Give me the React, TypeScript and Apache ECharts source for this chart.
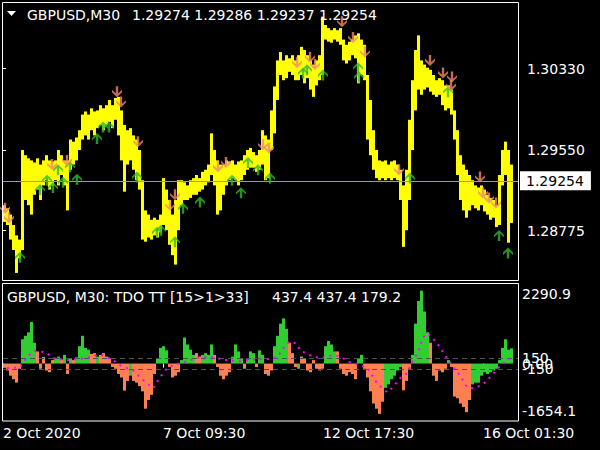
import React, { useEffect, useRef } from "react";
import * as echarts from "echarts";

// ---- price pane (GBPUSD M30), one sample per 3 bars ----
const priceHigh = [
  1.2902, 1.2899, 1.2893, 1.2883, 1.2873, 1.2869, 1.2955, 1.295, 1.2947, 1.2945,
  1.2943, 1.2947, 1.2941, 1.2945, 1.295, 1.2945, 1.2944, 1.2945, 1.2955, 1.295,
  1.2945, 1.2945, 1.2965, 1.2963, 1.2967, 1.2974, 1.2989, 1.2992, 1.2989, 1.2995,
  1.2992, 1.2993, 1.2998, 1.2995, 1.2998, 1.3003, 1.2998, 1.3005, 1.3006, 1.2993,
  1.2979, 1.2974, 1.2976, 1.2969, 1.2965, 1.2955, 1.2926, 1.2897, 1.2893, 1.2888,
  1.289, 1.2888, 1.2893, 1.2928, 1.2917, 1.2907, 1.2893, 1.2907, 1.2926, 1.2926,
  1.2924, 1.2921, 1.2926, 1.2928, 1.2931, 1.2928, 1.2934, 1.2936, 1.2941, 1.2971,
  1.2955, 1.2945, 1.2941, 1.2941, 1.2945, 1.2944, 1.2945, 1.2941, 1.2944, 1.2945,
  1.295, 1.2955, 1.2957, 1.2953, 1.295, 1.2955, 1.2974, 1.2969, 1.2965, 1.2993,
  1.3016, 1.3041, 1.3049, 1.3041, 1.3046, 1.3043, 1.3046, 1.3041, 1.3046, 1.3054,
  1.3051, 1.3046, 1.3041, 1.3037, 1.3041, 1.3046, 1.3083, 1.3075, 1.3072, 1.307,
  1.3072, 1.307, 1.3072, 1.3061, 1.3056, 1.3059, 1.3061, 1.3065, 1.3067, 1.3061,
  1.3056, 1.3027, 1.3003, 1.2974, 1.2955, 1.2945, 1.2944, 1.2945, 1.2941, 1.2944,
  1.2945, 1.2941, 1.2936, 1.2921, 1.2936, 1.2984, 1.3022, 1.3051, 1.3065, 1.3041,
  1.3037, 1.3034, 1.3032, 1.3027, 1.3022, 1.3024, 1.3022, 1.3017, 1.3017, 1.3013,
  1.2993, 1.2974, 1.295, 1.2941, 1.2936, 1.2931, 1.2926, 1.2921, 1.2919, 1.2921,
  1.2917, 1.2912, 1.2909, 1.2907, 1.2902, 1.2931, 1.2955, 1.2963, 1.2955, 1.2941,
];
const priceLow = [
  1.2886, 1.2883, 1.2869, 1.2859, 1.2837, 1.2851, 1.2859, 1.2907, 1.2902, 1.2893,
  1.2912, 1.2917, 1.2907, 1.2921, 1.2926, 1.2917, 1.2921, 1.2926, 1.2921, 1.2931,
  1.2921, 1.2897, 1.2936, 1.2941, 1.2945, 1.2955, 1.2965, 1.2969, 1.2965, 1.2974,
  1.2969, 1.2976, 1.2979, 1.2974, 1.2979, 1.2982, 1.2976, 1.2984, 1.2969, 1.2945,
  1.2915, 1.2941, 1.2945, 1.2936, 1.2926, 1.2917, 1.2869, 1.2867, 1.2871, 1.2869,
  1.2873, 1.2871, 1.2876, 1.2883, 1.2878, 1.2864, 1.2854, 1.2845, 1.2878, 1.2902,
  1.2907, 1.2907, 1.2909, 1.2912, 1.2912, 1.2915, 1.2917, 1.2921, 1.2924, 1.2931,
  1.2921, 1.2893, 1.2897, 1.2912, 1.2921, 1.2926, 1.2928, 1.2926, 1.2921, 1.2926,
  1.2931, 1.2936, 1.2938, 1.2938, 1.2934, 1.2936, 1.2941, 1.2926, 1.2928, 1.2955,
  1.2971, 1.3003, 1.3027, 1.3022, 1.3024, 1.303, 1.3027, 1.3022, 1.3022, 1.3027,
  1.3019, 1.3024, 1.3013, 1.3006, 1.3017, 1.3022, 1.3027, 1.3061, 1.3059, 1.3058,
  1.3061, 1.3059, 1.3056, 1.3041, 1.3038, 1.3041, 1.3046, 1.3043, 1.3019, 1.3027,
  1.3022, 1.2965, 1.295, 1.2936, 1.2928, 1.2926, 1.2928, 1.2926, 1.2928, 1.2926,
  1.2928, 1.2926, 1.2907, 1.2862, 1.2878, 1.2907, 1.2955, 1.2993, 1.3013, 1.3008,
  1.3013, 1.3015, 1.3011, 1.3008, 1.3006, 1.3008, 1.2998, 1.2993, 1.2995, 1.2989,
  1.2965, 1.2931, 1.2907, 1.2897, 1.289, 1.2897, 1.2902, 1.2899, 1.2897, 1.2902,
  1.2896, 1.2893, 1.2888, 1.289, 1.2881, 1.2883, 1.2921, 1.2931, 1.2866, 1.2885,
];
const barsPerSample = 3;

// arrow signals (bar index, price)
const upBar = [17, 37, 44, 50, 55, 60, 67, 74, 94, 100, 106, 134, 154, 158, 172, 180, 197, 229, 238, 245, 255, 267, 300, 304, 320, 355, 356, 407, 445, 496, 505];
const upPrice = [1.2852, 1.2917, 1.2926, 1.2919, 1.2936, 1.2924, 1.2939, 1.2927, 1.2966, 1.2977, 1.2977, 1.2929, 1.2876, 1.2878, 1.2867, 1.2899, 1.2905, 1.2926, 1.2914, 1.2943, 1.2936, 1.2928, 1.3029, 1.3032, 1.3027, 1.3034, 1.3025, 1.2928, 1.3011, 1.2873, 1.2856];
const downBar = [2, 6, 49, 64, 114, 118, 135, 167, 172, 215, 223, 260, 266, 294, 307, 312, 339, 350, 362, 396, 427, 440, 449, 448, 477, 480, 486, 493];
const downPrice = [1.2899, 1.289, 1.2941, 1.2945, 1.3011, 1.3001, 1.2963, 1.2902, 1.2912, 1.2939, 1.2943, 1.296, 1.2957, 1.3039, 1.3044, 1.3037, 1.3078, 1.3063, 1.3049, 1.2936, 1.3041, 1.3029, 1.3025, 1.3017, 1.2929, 1.2914, 1.2909, 1.2904];

const currentPrice = 1.29254;
const priceMin = 1.28302;
const priceMax = 1.30961;
const priceTicks = [1.28775, 1.2955, 1.3033];

// ---- indicator pane (TDO TT) ----
const histValue = [
  -120, -200, -350, -450, -550, -150, 700, 800, 900, 1200,
  600, 350, -150, 190, -200, -250, 100, 150, 200, 120,
  250, -300, 150, 100, 180, 500, 800, 450, 400, 280,
  300, 200, 250, 300, 200, 150, -100, -150, -300, -400,
  -780, -500, -350, -500, -550, -650, -800, -1300, -1050, -900,
  -300, 150, 450, 500, 380, -100, -400, -350, -250, 100,
  750, 550, 400, 250, 300, 200, 250, 300, 250, 550,
  250, -100, -350, -450, -350, -250, 200, 550, 350, 150,
  -150, 120, 350, 300, -100, 380, 250, -300, -350, -200,
  500, 800, 1150, 1300, 1000, 600, 300, -100, -150, 200,
  150, -200, -250, 100, -150, -200, -150, 500, 650, 550,
  350, 350, -150, -300, -350, -250, -300, -450, 150, 250,
  -150, -400, -800, -1150, -1300, -1450, -1100, -700, -600, -450,
  -350, -200, -100, -770, -500, -150, 250, 1150, 1800, 2100,
  1500, 900, 600, -350, -500, -200, -250, -150, 100, -100,
  -950, -1000, -1150, -1250, -1400, -1050, -600, -550, -550, -350,
  -250, -300, -250, -200, -150, 100, 450, 700, 400, 437.4,
];
// g = rising (green), c = falling (coral)
const histColorKey =
  "ccccccgggg" + "gccccccggc" + "gcgcgggggc" + "cgcccccccc" + "ccgccccccc" +
  "cggggccccg" + "ggggccgggg" + "ccccccgggg" + "cgggcggccc" + "gggggcccgc" +
  "cccccccggg" + "gcccccccgg" + "cccccccggg" + "gggcccgggg" + "ggccccccgc" +
  "ccccccgggg" + "gggggggggg";

const signalBar = [4, 17, 24, 30, 37, 44, 50, 57, 64, 74, 87, 97, 104, 110, 117, 124, 130, 137, 144, 150, 157, 164, 170, 177, 187, 197, 210, 224, 237, 250, 264, 274, 279, 284, 289, 295, 297, 307, 317, 330, 337, 347, 357, 364, 374, 384, 390, 397, 404, 410, 415, 420, 425, 434, 444, 450, 457, 464, 470, 479, 487, 495, 504, 509];
const signalValue = [-135, -107, 181, 354, 354, 297, 153, 124, 95, 124, 181, 268, 181, 95, -49, -135, -193, -395, -567, -711, -395, -135, -49, 9, 95, 181, 181, 95, 66, 124, 124, 181, 383, 585, 642, 527, 383, 239, 153, 239, 210, 37, -49, -107, -567, -826, -682, -423, -279, 95, 325, 757, 873, 585, 153, -107, -337, -682, -711, -625, -395, -135, 95, 179.2];

const indMin = -1654.1;
const indMax = 2290.9;
const indLevels = [150, -150];
const indTickValues = [2290.9, 150, 0, -150, -1654.1];
const indTickLabels = ["\n2290.9", "150", "0.00", "-150", "-1654.1\n"];

// ---- time axis ----
const timeTickBars = [0, 160, 320, 480];
const timeLabels = ["2 Oct 2020", "7 Oct 09:30", "12 Oct 17:30", "16 Oct 01:30"];
const totalBars = 515;

const mainTitle = "GBPUSD,M30";
const mainOHLC = "1.29274 1.29286 1.29237 1.29254";
const indTitle = "GBPUSD, M30: TDO TT [15>1>33]";
const indValues = "437.4 437.4 179.2";

const FONT = "DejaVu Sans";
const GREEN = "#32CD32";
const CORAL = "#FF7F50";
const ARROW_UP = "path://M5,0 L10,5 L10,7.4 L6.2,3.8 L6.2,11 L3.8,11 L3.8,3.8 L0,7.4 L0,5 Z";

export default function App() {
  const ref = useRef<HTMLDivElement>(null);
  useEffect(() => {
    document.body.style.margin = "0";
    document.body.style.background = "#000";
    const chart = echarts.init(ref.current!, null, { renderer: "svg" });

    const priceData = priceHigh.map((h, i) => [i * barsPerSample + barsPerSample / 2, priceLow[i], h]);
    const histData = histValue.map((v, i) => [i * barsPerSample + barsPerSample / 2, v]);

    const option: any = {
      animation: false,
      backgroundColor: "#000",
      textStyle: { fontFamily: FONT },
      grid: [
        { left: 3, top: 3, width: 515, height: 277 },
        { left: 3, top: 284, width: 515, height: 137 },
      ],
      xAxis: [
        { type: "value", gridIndex: 0, min: 0, max: totalBars, show: false },
        {
          type: "value",
          gridIndex: 1,
          min: 0,
          max: totalBars,
          axisLine: { show: false },
          splitLine: { show: false },
          axisTick: { show: true, customValues: timeTickBars, length: 4, lineStyle: { color: "#fff" } },
          axisLabel: {
            customValues: timeTickBars,
            formatter: (v: number) => timeLabels[timeTickBars.indexOf(v)] ?? "",
            color: "#fff",
            fontFamily: FONT,
            fontSize: 14,
            align: "left",
            margin: 5,
          },
        },
      ],
      yAxis: [
        {
          type: "value",
          gridIndex: 0,
          position: "right",
          min: priceMin,
          max: priceMax,
          splitLine: { show: false },
          axisLine: { show: false },
          axisTick: { show: true, customValues: priceTicks, length: 3, lineStyle: { color: "#fff" } },
          axisLabel: {
            customValues: priceTicks,
            formatter: (v: number) => v.toFixed(5),
            color: "#fff",
            fontFamily: FONT,
            fontSize: 14,
            margin: 9,
          },
        },
        {
          type: "value",
          gridIndex: 1,
          position: "right",
          min: indMin,
          max: indMax,
          splitLine: { show: false },
          axisLine: { show: false },
          axisTick: { show: false },
          axisLabel: {
            customValues: indTickValues,
            formatter: (v: number) => {
              const k = indTickValues.findIndex((t) => Math.abs(t - v) < 1e-6);
              return k >= 0 ? indTickLabels[k] : "";
            },
            color: "#fff",
            fontFamily: FONT,
            fontSize: 14,
            lineHeight: 20,
            margin: 4,
          },
        },
      ],
      series: [
        {
          type: "custom",
          xAxisIndex: 0,
          yAxisIndex: 0,
          data: priceData,
          encode: { x: 0, y: [1, 2] },
          renderItem: (params: any, api: any) => {
            const x = api.value(0);
            const top = api.coord([x, api.value(2)]);
            const bot = api.coord([x, api.value(1)]);
            return {
              type: "rect",
              shape: { x: top[0] - 1.5, y: top[1], width: 3, height: Math.max(1, bot[1] - top[1]) },
              style: { fill: "#FFFF00" },
            };
          },
          silent: true,
        },
        {
          type: "scatter",
          xAxisIndex: 0,
          yAxisIndex: 0,
          data: upBar.map((b, i) => [b, upPrice[i]]),
          symbol: ARROW_UP,
          symbolSize: [10, 11],
          itemStyle: { color: "#2DBA2D" },
          silent: true,
          z: 5,
          markLine: {
            silent: true,
            precision: 5,
            symbol: ["none", "none"],
            lineStyle: { color: "#8C9BAE", width: 1, type: "solid" },
            label: {
              show: true,
              position: "end",
              formatter: currentPrice.toFixed(5),
              color: "#000",
              backgroundColor: "#fff",
              padding: [3, 7, 2, 6],
              fontFamily: FONT,
              fontSize: 14,
              distance: 2,
            },
            data: [{ yAxis: currentPrice }],
          },
        },
        {
          type: "scatter",
          xAxisIndex: 0,
          yAxisIndex: 0,
          data: downBar.map((b, i) => [b, downPrice[i]]),
          symbol: ARROW_UP,
          symbolRotate: 180,
          symbolSize: [10, 11],
          itemStyle: { color: "#F4876E" },
          silent: true,
          z: 5,
        },
        {
          type: "custom",
          xAxisIndex: 1,
          yAxisIndex: 1,
          data: histData,
          encode: { x: 0, y: 1 },
          renderItem: (params: any, api: any) => {
            const x = api.value(0);
            const p0 = api.coord([x, 0]);
            const p1 = api.coord([x, api.value(1)]);
            const y = Math.min(p0[1], p1[1]);
            const h = Math.abs(p1[1] - p0[1]);
            return {
              type: "rect",
              shape: { x: p0[0] - 1.5, y, width: 3, height: Math.max(1, h) },
              style: { fill: histColorKey[params.dataIndex] === "g" ? GREEN : CORAL },
            };
          },
          silent: true,
        },
        {
          type: "line",
          xAxisIndex: 1,
          yAxisIndex: 1,
          data: signalBar.map((b, i) => [b, signalValue[i]]),
          showSymbol: false,
          lineStyle: { color: "#FF00FF", width: 2, type: [2, 5] },
          silent: true,
          z: 5,
          markLine: {
            silent: true,
            precision: 2,
            symbol: ["none", "none"],
            label: { show: false },
            lineStyle: { color: "#3A5A5A", width: 1, type: [5, 4] },
            data: indLevels.map((v) => ({ yAxis: v })),
          },
        },
      ],
      graphic: [
        {
          type: "rect",
          shape: { x: 2.5, y: 2.5, width: 516, height: 278 },
          style: { fill: "none", stroke: "#fff", lineWidth: 1 },
          z: 100,
          silent: true,
        },
        {
          type: "rect",
          shape: { x: 2.5, y: 283.5, width: 516, height: 137.5 },
          style: { fill: "none", stroke: "#fff", lineWidth: 1 },
          z: 100,
          silent: true,
        },
        {
          type: "polygon",
          shape: { points: [[7, 11], [16, 11], [11.5, 16]] },
          style: { fill: "#fff" },
          z: 100,
        },
        {
          type: "text",
          x: 27,
          y: 15,
          style: { text: mainTitle, fill: "#fff", font: `14px "${FONT}"`, verticalAlign: "middle" },
          z: 100,
        },
        {
          type: "text",
          x: 132,
          y: 15,
          style: { text: mainOHLC, fill: "#fff", font: `14px "${FONT}"`, verticalAlign: "middle" },
          z: 100,
        },
        {
          type: "text",
          x: 7,
          y: 297,
          style: { text: indTitle, fill: "#fff", font: `14px "${FONT}"`, verticalAlign: "middle" },
          z: 100,
        },
        {
          type: "text",
          x: 272,
          y: 297,
          style: { text: indValues, fill: "#fff", font: `14px "${FONT}"`, verticalAlign: "middle" },
          z: 100,
        },
      ],
    };
    chart.setOption(option);
    return () => chart.dispose();
  }, []);
  return <div ref={ref} style={{ width: 600, height: 450, background: "#000" }} />;
}
